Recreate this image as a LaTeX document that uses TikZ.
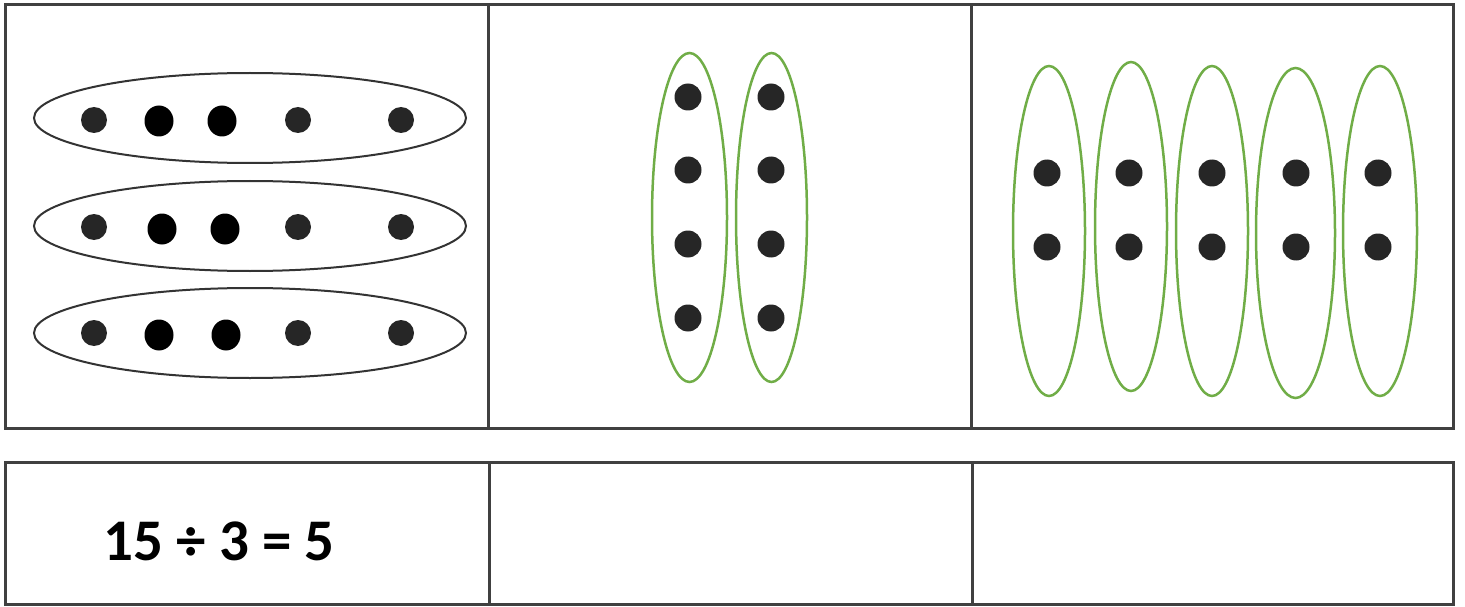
\documentclass[tikz,border=0pt]{standalone}
\usepackage{fontspec}
\setmainfont{Carlito}
\begin{document}
\begin{tikzpicture}[x=1pt,y=-1pt,
  frame/.style={draw=black!75, line width=3pt},
  grayoval/.style={draw=black!80, line width=2pt},
  greenoval/.style={draw=ovalgreen, line width=2.5pt},
  dot/.style={fill=black!85},
  bigdot/.style={fill=black}]
\definecolor{ovalgreen}{HTML}{70AD47}
\useasboundingbox (0,0) rectangle (1465,607);
% top table
\draw[frame] (5,5) rectangle (1453,428);
\draw[frame] (488,5) -- (488,428);
\draw[frame] (971,5) -- (971,428);
% bottom table
\draw[frame] (5,462) rectangle (1453,604);
\draw[frame] (489,462) -- (489,604);
\draw[frame] (972,462) -- (972,604);
% left panel: three rows of five
\foreach \cy in {118,226,333} {
  \draw[grayoval] (250,\cy) ellipse [x radius=216pt, y radius=45pt];
}
\foreach \cy in {120,227,333} {
  \foreach \cx in {94,298,401} {
    \fill[dot] (\cx,\cy) circle [radius=13pt];
  }
}
\fill[bigdot] (159,121) ellipse [x radius=14.5pt, y radius=15.5pt];
\fill[bigdot] (222,121) ellipse [x radius=14.5pt, y radius=15.5pt];
\fill[bigdot] (162,229) ellipse [x radius=14.5pt, y radius=15.5pt];
\fill[bigdot] (225,229) ellipse [x radius=14.5pt, y radius=15.5pt];
\fill[bigdot] (159,335) ellipse [x radius=14.5pt, y radius=15.5pt];
\fill[bigdot] (226,335) ellipse [x radius=14.5pt, y radius=15.5pt];
% middle panel: two groups of four
\draw[greenoval] (689.5,217.5) ellipse [x radius=37.5pt, y radius=164.5pt];
\draw[greenoval] (771.5,217.5) ellipse [x radius=35.5pt, y radius=164.5pt];
\foreach \cx in {688,771} {
  \foreach \cy in {97,170,244,318} {
    \fill[dot] (\cx,\cy) circle [radius=13.5pt];
  }
}
% right panel: five groups of two
\draw[greenoval] (1049,231) ellipse [x radius=36pt, y radius=165pt];
\draw[greenoval] (1131,226.5) ellipse [x radius=36pt, y radius=164.5pt];
\draw[greenoval] (1212,231) ellipse [x radius=36pt, y radius=165pt];
\draw[greenoval] (1295.5,233) ellipse [x radius=39.5pt, y radius=165pt];
\draw[greenoval] (1380,231) ellipse [x radius=37pt, y radius=165pt];
\foreach \cx in {1047,1129,1212,1296,1378} {
  \foreach \cy in {173,247} {
    \fill[dot] (\cx,\cy) circle [radius=13.5pt];
  }
}
% equation
\node[font=\fontsize{59}{60}\selectfont\bfseries, inner sep=0pt] (eq) at (219,541) {15 ÷ 3 = 5};
\end{tikzpicture}
\end{document}
